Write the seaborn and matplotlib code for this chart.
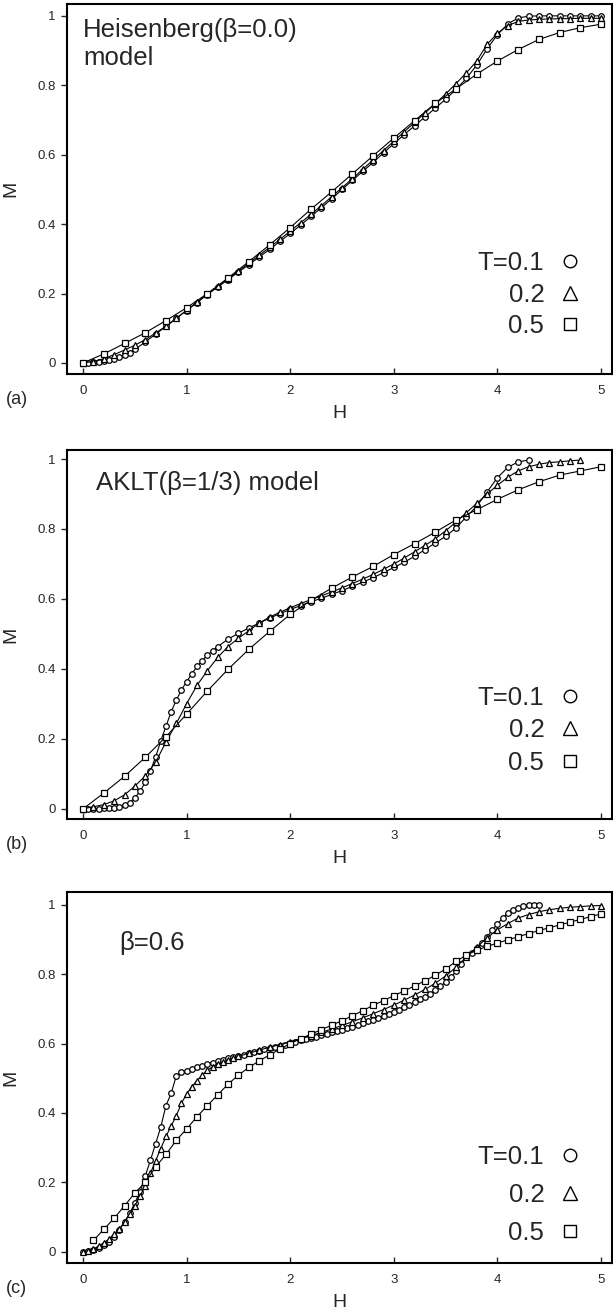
import numpy as np
import pandas as pd
import matplotlib
matplotlib.use("Agg")
import matplotlib.pyplot as plt
from matplotlib.lines import Line2D
import seaborn as sns

# ---------------- magnetization curves M(H) ----------------
# (a) Heisenberg model, beta = 0.0
a_h_t01 = np.round(np.concatenate([np.arange(0, 0.51, 0.05), np.arange(0.6, 5.01, 0.1)]), 2)
a_m_t01 = [0.0, 0.0, 0.002, 0.003, 0.005, 0.008, 0.012, 0.017, 0.023, 0.03, 0.039,
           0.06, 0.083, 0.105, 0.129, 0.151,
           0.174, 0.197, 0.219, 0.24, 0.262, 0.283, 0.305, 0.327, 0.35, 0.373,
           0.397, 0.422, 0.447, 0.473, 0.5, 0.526, 0.552, 0.578, 0.605, 0.632,
           0.658, 0.683, 0.709, 0.734, 0.76, 0.788, 0.82, 0.858, 0.905, 0.946,
           0.977, 0.994, 0.999, 1.0, 1.0, 1.0, 1.0, 1.0, 1.0, 1.0]
a_h_t02 = np.round(np.arange(0, 5.01, 0.1), 2)
a_m_t02 = [0.0, 0.004, 0.012, 0.024, 0.037, 0.051, 0.067, 0.086, 0.106, 0.128, 0.152,
           0.175, 0.198, 0.221, 0.243, 0.265, 0.287, 0.31, 0.333, 0.356, 0.38,
           0.404, 0.428, 0.453, 0.479, 0.505, 0.531, 0.558, 0.585, 0.612, 0.639,
           0.666, 0.693, 0.72, 0.747, 0.775, 0.805, 0.836, 0.87, 0.918, 0.95,
           0.972, 0.984, 0.988, 0.99, 0.991, 0.992, 0.992, 0.993, 0.993, 0.993]
a_h_t05 = np.round(np.arange(0, 5.01, 0.2), 2)
a_m_t05 = [0.0, 0.026, 0.056, 0.087, 0.122, 0.159, 0.2, 0.245, 0.292, 0.34, 0.39,
           0.443, 0.493, 0.545, 0.597, 0.648, 0.698, 0.748, 0.79, 0.832, 0.87,
           0.903, 0.932, 0.952, 0.966, 0.976]

# (b) AKLT model, beta = 1/3
b_h_t01 = np.round(np.concatenate([np.arange(0, 1.31, 0.05), np.arange(1.4, 4.31, 0.1)]), 2)
b_m_t01 = [0.0, 0.0, 0.0, 0.0, 0.001, 0.001, 0.003, 0.005, 0.01, 0.017,
           0.032, 0.05, 0.076, 0.108, 0.148, 0.194, 0.236, 0.277, 0.311, 0.34,
           0.364, 0.386, 0.407, 0.424, 0.439, 0.452, 0.464,
           0.485, 0.502, 0.517, 0.531, 0.545, 0.558, 0.57, 0.581, 0.592, 0.602,
           0.613, 0.624, 0.636, 0.648, 0.661, 0.675, 0.69, 0.705, 0.722, 0.741,
           0.76, 0.779, 0.803, 0.835, 0.865, 0.906, 0.947, 0.976, 0.992, 0.997]
b_h_t02 = np.round(np.arange(0, 4.81, 0.1), 2)
b_m_t02 = [0.0, 0.006, 0.012, 0.023, 0.04, 0.065, 0.094, 0.133, 0.191, 0.244, 0.301,
           0.353, 0.395, 0.433, 0.464, 0.488, 0.509, 0.531, 0.548, 0.562, 0.575,
           0.587, 0.598, 0.609, 0.62, 0.632, 0.644, 0.657, 0.67, 0.685, 0.7,
           0.717, 0.735, 0.753, 0.772, 0.795, 0.82, 0.847, 0.873, 0.9, 0.925,
           0.948, 0.966, 0.978, 0.985, 0.99, 0.992, 0.995, 0.997]
b_h_t05 = np.round(np.arange(0, 5.01, 0.2), 2)
b_m_t05 = [0.0, 0.045, 0.093, 0.147, 0.206, 0.271, 0.337, 0.399, 0.456, 0.507, 0.556,
           0.596, 0.631, 0.663, 0.693, 0.727, 0.758, 0.791, 0.826, 0.855, 0.885,
           0.912, 0.935, 0.954, 0.966, 0.978]

# (c) beta = 0.6
c_h_t01 = np.round(np.arange(0, 4.41, 0.05), 2)
c_m_t01 = [0.0, 0.001, 0.005, 0.01, 0.019, 0.029, 0.043, 0.062, 0.086, 0.11,
           0.141, 0.172, 0.218, 0.263, 0.311, 0.359, 0.421, 0.456, 0.507, 0.517,
           0.522, 0.527, 0.531, 0.536, 0.541, 0.545, 0.549, 0.553, 0.557, 0.561,
           0.564, 0.568, 0.572, 0.575, 0.579, 0.583, 0.587, 0.59, 0.594, 0.597,
           0.601, 0.605, 0.609, 0.612, 0.616, 0.62, 0.624, 0.628, 0.632, 0.636,
           0.64, 0.645, 0.649, 0.654, 0.659, 0.664, 0.669, 0.674, 0.68, 0.686,
           0.692, 0.698, 0.705, 0.712, 0.719, 0.727, 0.735, 0.744, 0.754, 0.765,
           0.777, 0.791, 0.808, 0.828, 0.85, 0.862, 0.876, 0.891, 0.908, 0.927,
           0.945, 0.962, 0.976, 0.986, 0.992, 0.996, 0.999, 1.0, 1.0]
c_h_t02 = np.round(np.concatenate([np.arange(0, 1.51, 0.05), np.arange(1.6, 5.01, 0.1)]), 2)
c_m_t02 = [0.0, 0.002, 0.008, 0.015, 0.025, 0.036, 0.05, 0.066, 0.085, 0.107,
           0.132, 0.16, 0.19, 0.226, 0.262, 0.297, 0.332, 0.362, 0.392, 0.428,
           0.455, 0.476, 0.493, 0.509, 0.523, 0.533, 0.541, 0.547, 0.553, 0.558,
           0.563,
           0.572, 0.581, 0.589, 0.597, 0.605, 0.614, 0.623, 0.632, 0.642, 0.652,
           0.663, 0.674, 0.686, 0.698, 0.711, 0.725, 0.74, 0.756, 0.774, 0.795,
           0.82, 0.85, 0.878, 0.905, 0.928, 0.946, 0.962, 0.972, 0.98, 0.986,
           0.99, 0.993, 0.995, 0.997, 0.998]
c_h_t05 = np.round(np.arange(0.1, 5.01, 0.1), 2)
c_m_t05 = [0.032, 0.064, 0.096, 0.132, 0.169, 0.2, 0.244, 0.28, 0.321, 0.354,
           0.389, 0.421, 0.452, 0.483, 0.509, 0.531, 0.55, 0.567, 0.584, 0.6,
           0.614, 0.627, 0.64, 0.653, 0.666, 0.68, 0.695, 0.71, 0.724, 0.738,
           0.752, 0.766, 0.781, 0.797, 0.815, 0.837, 0.855, 0.869, 0.88, 0.89,
           0.899, 0.908, 0.917, 0.926, 0.934, 0.942, 0.95, 0.958, 0.966, 0.974]

temperatures = ["0.1", "0.2", "0.5"]
legend_labels = ["T=0.1", "0.2", "0.5"]
x_ticks = [0, 1, 2, 3, 4, 5]
x_tick_labels = ["0", "1", "2", "3", "4", "5"]
y_ticks = [0, 0.2, 0.4, 0.6, 0.8, 1.0]
y_tick_labels = ["0", "0.2", "0.4", "0.6", "0.8", "1"]
panel_tags = ["(a)", "(b)", "(c)"]
panel_titles = ["Heisenberg(β=0.0)\nmodel", "AKLT(β=1/3) model", "β=0.6"]

panels = [
    [(a_h_t01, a_m_t01), (a_h_t02, a_m_t02), (a_h_t05, a_m_t05)],
    [(b_h_t01, b_m_t01), (b_h_t02, b_m_t02), (b_h_t05, b_m_t05)],
    [(c_h_t01, c_m_t01), (c_h_t02, c_m_t02), (c_h_t05, c_m_t05)],
]

# ---------------- styling ----------------
sns.set_style("ticks")
plt.rcParams["font.family"] = ["Liberation Sans", "DejaVu Sans"]
plt.rcParams["axes.linewidth"] = 1.5

marker_of = {"0.1": "o", "0.2": "^", "0.5": "s"}
msize_of = {"0.1": 4.0, "0.2": 4.6, "0.5": 4.4}
legend_msize = {"0.1": 9, "0.2": 10, "0.5": 9}

# axes rectangles [left, bottom, width, height] in figure fraction
axes_rects = [
    [0.1093, 0.7147, 0.8890, 0.2822],
    [0.1093, 0.3753, 0.8890, 0.2815],
    [0.1093, 0.0366, 0.8890, 0.2830],
]
y_limits = [(-0.032, 1.034), (-0.029, 1.026), (-0.033, 1.037)]
title_spec = [  # (x, y, va) in data coordinates
    (0.0, 0.995, "top"),
    (0.125, 0.931, "center"),
    (0.35, 0.89, "center"),
]
legend_spec = [  # (anchor y in axes fraction, labelspacing)
    (0.333, 0.30),
    (0.361, 0.34),
    (0.318, 0.55),
]

fig = plt.figure(figsize=(6.13, 13.11), dpi=100)

for i, series in enumerate(panels):
    ax = fig.add_axes(axes_rects[i])
    for temp, (h, m) in zip(temperatures, series):
        df = pd.DataFrame({"H": h, "M": m})
        sns.lineplot(data=df, x="H", y="M", ax=ax, color="black", linewidth=0.8,
                     marker=marker_of[temp], markersize=msize_of[temp],
                     markerfacecolor="white", markeredgecolor="black",
                     markeredgewidth=0.9, estimator=None, legend=False)

    ax.set_xlim(-0.155, 5.105)
    ax.set_ylim(*y_limits[i])
    ax.set_xticks(x_ticks)
    ax.set_xticklabels(x_tick_labels)
    ax.set_yticks(y_ticks)
    ax.set_yticklabels(y_tick_labels)
    ax.tick_params(axis="x", direction="in", length=4, width=1.0, pad=8, labelsize=9.5)
    ax.tick_params(axis="y", direction="out", length=4, width=1.0, pad=4, labelsize=9.5)

    for side in ["top", "right", "left", "bottom"]:
        ax.spines[side].set_visible(True)
        ax.spines[side].set_color("black")

    ax.set_xlabel("H", fontsize=14)
    ax.set_ylabel("M", fontsize=14)
    ax.xaxis.set_label_coords(0.5, -0.083)
    ax.yaxis.set_label_coords(-0.088, 0.5)

    ax.text(-0.112, -0.07, panel_tags[i], transform=ax.transAxes,
            ha="left", va="center", fontsize=13)

    tx, ty, tva = title_spec[i]
    ax.text(tx, ty, panel_titles[i], ha="left", va=tva, fontsize=18.5, linespacing=1.25)

    handles = [Line2D([], [], linestyle="none", marker=marker_of[t],
                      markersize=legend_msize[t], markerfacecolor="white",
                      markeredgecolor="black", markeredgewidth=1.0)
               for t in temperatures]
    ly, lsp = legend_spec[i]
    ax.legend(handles, legend_labels, loc="upper right",
              bbox_to_anchor=(0.9404, ly), bbox_transform=ax.transAxes,
              frameon=False, markerfirst=False, fontsize=18.5,
              handlelength=0.75, handletextpad=0.62, labelspacing=lsp,
              borderpad=0, borderaxespad=0)

fig.savefig("out.png", dpi=100)
